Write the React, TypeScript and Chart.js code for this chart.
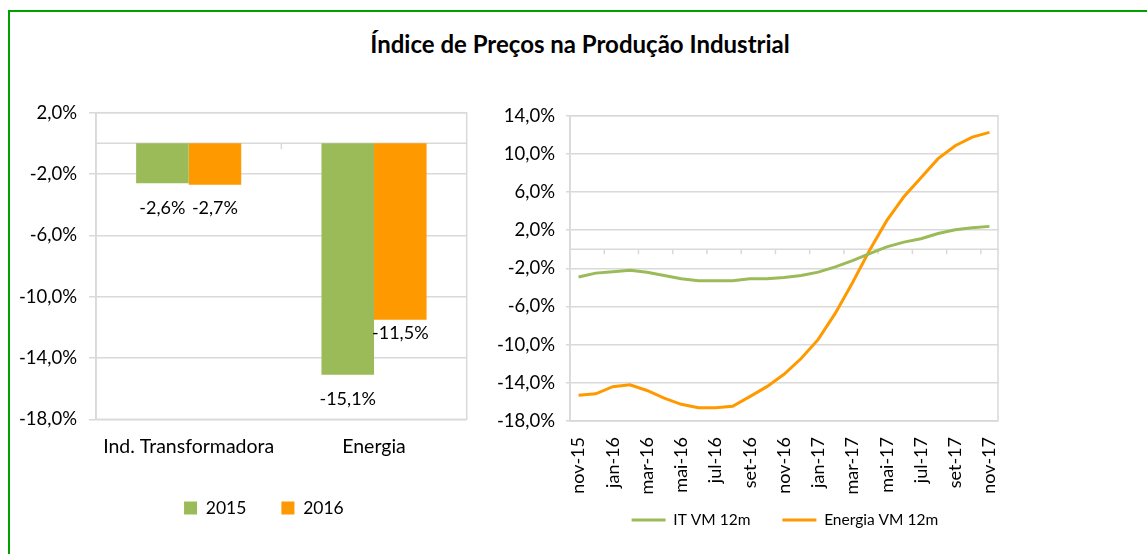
import React, { useEffect, useRef } from "react";
import { Chart, registerables } from "chart.js";

Chart.register(...registerables);

// ---------- data ----------
const barCategories = ["Ind. Transformadora", "Energia"];
const barSeriesNames = ["2015", "2016"];
const bar2015 = [-2.6, -15.1];
const bar2016 = [-2.7, -11.5];

const months = [
  "nov-15", "dez-15", "jan-16", "fev-16", "mar-16", "abr-16", "mai-16", "jun-16",
  "jul-16", "ago-16", "set-16", "out-16", "nov-16", "dez-16", "jan-17", "fev-17",
  "mar-17", "abr-17", "mai-17", "jun-17", "jul-17", "ago-17", "set-17", "out-17", "nov-17",
];
const lineSeriesNames = ["IT VM 12m", "Energia VM 12m"];
const itVM12 = [
  -2.9, -2.5, -2.35, -2.2, -2.4, -2.75, -3.1, -3.3, -3.3, -3.3, -3.1, -3.1, -2.95,
  -2.75, -2.4, -1.85, -1.2, -0.45, 0.25, 0.75, 1.1, 1.65, 2.05, 2.25, 2.4,
];
const energiaVM12 = [
  -15.3, -15.15, -14.4, -14.2, -14.8, -15.6, -16.25, -16.6, -16.6, -16.45, -15.45,
  -14.4, -13.1, -11.45, -9.45, -6.7, -3.5, -0.1, 3.0, 5.5, 7.5, 9.5, 10.85, 11.75, 12.25,
];

const title = "Índice de Preços na Produção Industrial";

// ---------- style ----------
const GREEN = "#9BBB59";
const ORANGE = "#FF9900";
const GRID = "#D9D9D9";
const FONT = "Lato";

const pct = (v: number) => Number(v).toFixed(1).replace(".", ",") + "%";

const framePlugin = {
  id: "frame",
  beforeDatasetsDraw(chart: any, _args: any, opts: any) {
    const { ctx, chartArea: a, scales } = chart;
    const y0 = scales.y.getPixelForValue(0);
    ctx.save();
    ctx.strokeStyle = GRID;
    ctx.lineWidth = 1.5;
    ctx.strokeRect(a.left, a.top, a.right - a.left, a.bottom - a.top);
    ctx.beginPath();
    ctx.moveTo(a.left, y0);
    ctx.lineTo(a.right, y0);
    const xs = scales.x;
    const n = chart.data.labels.length;
    for (let k = opts.tickEvery; k < n; k += opts.tickEvery) {
      const px = (xs.getPixelForValue(k - 1) + xs.getPixelForValue(k)) / 2;
      ctx.moveTo(px, y0);
      ctx.lineTo(px, y0 + opts.tickLen);
    }
    ctx.stroke();
    ctx.restore();
  },
};

// places the legend row: centre of the row at `center`, top edge at `top`
const legendPosPlugin = {
  id: "legendPos",
  afterLayout(chart: any, _args: any, opts: any) {
    const lg = chart.legend;
    if (!lg) return;
    const h = lg.bottom - lg.top;
    lg.top = opts.top;
    lg.bottom = opts.top + h;
    lg.left = opts.center - 400;
    lg.right = opts.center + 400;
  },
};

const barLabelPlugin = {
  id: "barLabels",
  afterDatasetsDraw(chart: any, _args: any, opts: any) {
    const { ctx } = chart;
    ctx.save();
    ctx.font = `${opts.size}px ${FONT}`;
    ctx.fillStyle = "#000";
    ctx.textAlign = "center";
    ctx.textBaseline = "middle";
    chart.data.datasets.forEach((ds: any, di: number) => {
      const meta = chart.getDatasetMeta(di);
      meta.data.forEach((el: any, i: number) => {
        ctx.fillText(pct(ds.data[i]), el.x, el.y + opts.offsets[di][i]);
      });
    });
    ctx.restore();
  },
};

function BarChart() {
  const ref = useRef<HTMLCanvasElement>(null);
  useEffect(() => {
    const chart = new Chart(ref.current!, {
      type: "bar",
      data: {
        labels: barCategories,
        datasets: [
          { label: barSeriesNames[0], data: bar2015, backgroundColor: GREEN },
          { label: barSeriesNames[1], data: bar2016, backgroundColor: ORANGE },
        ],
      },
      plugins: [framePlugin, barLabelPlugin, legendPosPlugin],
      options: {
        responsive: false,
        animation: false,
        devicePixelRatio: 1,
        layout: { padding: { top: 22.7, right: 53.3, bottom: 23.5, left: 0 } },
        datasets: { bar: { categoryPercentage: 0.567, barPercentage: 1 } },
        scales: {
          x: {
            grid: { display: false, drawTicks: false },
            border: { display: false },
            ticks: { color: "#000", font: { size: 19.5, family: FONT }, padding: 15.7 },
            afterFit(s: any) {
              s.height = 44.7;
              s.paddingLeft = 0;
              s.paddingRight = 0;
            },
          },
          y: {
            min: -18,
            max: 2,
            ticks: { stepSize: 4, callback: (v: any) => pct(v), color: "#000", font: { size: 18.5, family: FONT }, padding: 12 },
            grid: { color: GRID, lineWidth: 1.5, tickLength: 7 },
            border: { color: GRID, width: 1.5 },
            afterFit(s: any) {
              s.width = 86;
              s.paddingTop = 0;
              s.paddingBottom = 0;
            },
          },
        },
        plugins: {
          legend: {
            position: "bottom",
            labels: { boxWidth: 13, boxHeight: 13, padding: 35, color: "#000", font: { size: 17.5, family: FONT } },
          },
          tooltip: { enabled: false },
          frame: { tickEvery: 1, tickLen: 6 },
          barLabels: { offsets: [[25, 24], [23, 14]], size: 18 },
          legendPos: { top: 374.25, center: 253.9 },
        } as any,
      },
    } as any);
    return () => chart.destroy();
  }, []);
  return <canvas ref={ref} width={510} height={460} style={{ position: "absolute", left: 10, top: 90, width: 510, height: 460 }} />;
}

function LineChart() {
  const ref = useRef<HTMLCanvasElement>(null);
  useEffect(() => {
    const chart = new Chart(ref.current!, {
      type: "line",
      data: {
        labels: months,
        datasets: [
          { label: lineSeriesNames[0], data: itVM12, borderColor: GREEN, backgroundColor: GREEN, borderWidth: 3, pointRadius: 0, tension: 0 },
          { label: lineSeriesNames[1], data: energiaVM12, borderColor: ORANGE, backgroundColor: ORANGE, borderWidth: 3, pointRadius: 0, tension: 0 },
        ],
      },
      plugins: [framePlugin, legendPosPlugin],
      options: {
        responsive: false,
        animation: false,
        devicePixelRatio: 1,
        layout: { padding: { top: 25.7, right: 52, bottom: 0.5, left: 0 } },
        scales: {
          x: {
            offset: true,
            grid: { display: false, drawTicks: false },
            border: { display: false },
            ticks: {
              autoSkip: false,
              minRotation: 90,
              maxRotation: 90,
              padding: 16,
              color: "#000",
              font: { size: 18, family: FONT },
              callback: (_v: any, i: number) => (i % 2 === 0 ? months[i] : ""),
            },
            afterFit(s: any) {
              s.height = 75;
              s.paddingLeft = 0;
              s.paddingRight = 0;
            },
          },
          y: {
            min: -18,
            max: 14,
            ticks: { stepSize: 4, callback: (v: any) => pct(v), color: "#000", font: { size: 18.5, family: FONT }, padding: 11 },
            grid: { color: GRID, lineWidth: 1.5, tickLength: 4 },
            border: { color: GRID, width: 1.5 },
            afterFit(s: any) {
              s.width = 100;
              s.paddingTop = 0;
              s.paddingBottom = 0;
            },
          },
        },
        plugins: {
          legend: {
            position: "bottom",
            labels: {
              boxWidth: 34,
              boxHeight: 3,
              padding: 32,
              color: "#000",
              font: { size: 15.5, family: FONT },
              generateLabels: (c: any) =>
                (Chart.defaults.plugins.legend.labels as any).generateLabels(c).map((l: any) => ({ ...l, fillStyle: l.strokeStyle, lineWidth: 0 })),
            },
          },
          tooltip: { enabled: false },
          frame: { tickEvery: 2, tickLen: 5 },
          legendPos: { top: 390.25, center: 314.9 },
        } as any,
      },
    } as any);
    return () => chart.destroy();
  }, []);
  return <canvas ref={ref} width={580} height={464} style={{ position: "absolute", left: 470, top: 90, width: 580, height: 464 }} />;
}

export default function App() {
  return (
    <div style={{ position: "fixed", left: 0, top: 0, width: 1147, height: 554, overflow: "hidden", background: "#fff" }}>
      <div
        style={{
          position: "absolute",
          left: 8,
          top: 10,
          width: 1139,
          height: 544,
          boxSizing: "border-box",
          borderLeft: "2px solid #00A000",
          borderTop: "2px solid #00A000",
        }}
      />
      <div
        style={{
          position: "absolute",
          left: 10,
          top: 29,
          width: 1140,
          textAlign: "center",
          fontFamily: FONT,
          fontWeight: 700,
          fontSize: 24,
          lineHeight: "29px",
          color: "#000",
        }}
      >
        {title}
      </div>
      <BarChart />
      <LineChart />
    </div>
  );
}
